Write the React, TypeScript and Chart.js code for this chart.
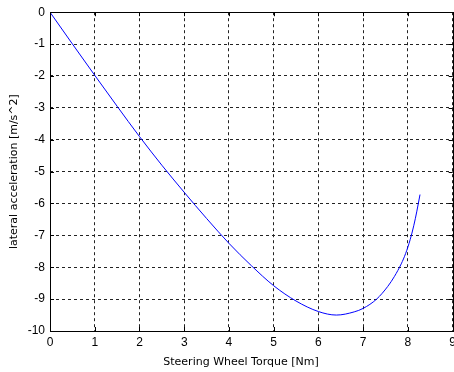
import React, { useEffect, useRef } from "react";
import { Chart, registerables } from "chart.js";

Chart.register(...registerables);

const torque = [0, 0.5, 1, 1.5, 2, 2.5, 3, 3.5, 4, 4.5, 5, 5.5, 6, 6.4, 6.8, 7, 7.3, 7.55, 7.7, 7.85, 7.95, 8.05, 8.13, 8.2, 8.27];
const latAcc = [0, -0.995, -1.98, -2.95, -3.9, -4.8, -5.65, -6.47, -7.25, -7.95, -8.58, -9.06, -9.39, -9.5, -9.4, -9.29, -9.0, -8.6, -8.285, -7.895, -7.565, -7.135, -6.7, -6.24, -5.72];
const xTicks = [0, 1, 2, 3, 4, 5, 6, 7, 8, 9];
const yTicks = [0, -1, -2, -3, -4, -5, -6, -7, -8, -9, -10];
const xTitle = "Steering Wheel Torque [Nm]";
const yTitle = "lateral acceleration [m/s^2]";

const boxPlugin = {
  id: "box",
  afterDraw(chart: any) {
    const { ctx, chartArea } = chart;
    const { left, right, top, bottom } = chartArea;
    ctx.save();
    ctx.strokeStyle = "#000";
    ctx.lineWidth = 1;
    ctx.setLineDash([]);
    ctx.strokeRect(Math.round(left) + 0.5, Math.round(top) + 0.5, Math.round(right - left), Math.round(bottom - top));
    const xs = chart.scales.x;
    const ys = chart.scales.y;
    ctx.beginPath();
    xTicks.forEach((v) => {
      const px = Math.round(xs.getPixelForValue(v)) + 0.5;
      ctx.moveTo(px, bottom);
      ctx.lineTo(px, bottom - 4);
      ctx.moveTo(px, top);
      ctx.lineTo(px, top + 4);
    });
    yTicks.forEach((v) => {
      const py = Math.round(ys.getPixelForValue(v)) + 0.5;
      ctx.moveTo(left, py);
      ctx.lineTo(left + 4, py);
      ctx.moveTo(right, py);
      ctx.lineTo(right - 4, py);
    });
    ctx.stroke();
    ctx.fillStyle = "#000";
    ctx.font = "11px 'DejaVu Sans'";
    ctx.textAlign = "center";
    ctx.textBaseline = "middle";
    ctx.fillText(xTitle, 241, 362);
    ctx.restore();
  },
};

export default function App() {
  const ref = useRef<HTMLCanvasElement>(null);
  useEffect(() => {
    const chart = new Chart(ref.current as HTMLCanvasElement, {
      type: "line",
      data: {
        datasets: [
          {
            data: torque.map((x, i) => ({ x, y: latAcc[i] })),
            borderColor: "#0000ff",
            borderWidth: 1,
            pointRadius: 0,
            cubicInterpolationMode: "monotone",
            fill: false,
          },
        ],
      },
      options: {
        animation: false,
        responsive: false,
        maintainAspectRatio: false,
        layout: { padding: { top: 11, right: 5, left: 0, bottom: 0 } },
        plugins: { legend: { display: false }, tooltip: { enabled: false } },
        scales: {
          x: {
            type: "linear",
            min: 0,
            max: 9,
            afterFit: (s: any) => { s.height = 41; },
            afterBuildTicks: (s: any) => { s.ticks = xTicks.map((v) => ({ value: v })); },
            grid: { color: "#222", drawTicks: false, lineWidth: 1 },
            border: { display: false, dash: [3, 3] },
            ticks: { color: "#000", padding: 4, font: { family: "Liberation Sans", size: 12 }, maxRotation: 0 },
          },
          y: {
            type: "linear",
            min: -10,
            max: 0,
            afterFit: (s: any) => { s.width = 50; },
            afterBuildTicks: (s: any) => { s.ticks = yTicks.map((v) => ({ value: v })); },
            grid: { color: "#222", drawTicks: false, lineWidth: 1 },
            border: { display: false, dash: [3, 3] },
            ticks: { color: "#000", padding: 5, font: { family: "Liberation Sans", size: 12 } },
            title: { display: true, text: yTitle, color: "#000", padding: { top: 8, bottom: 0 }, font: { family: "DejaVu Sans", size: 11 } },
          },
        },
      },
      plugins: [boxPlugin],
    } as any);
    return () => chart.destroy();
  }, []);
  return (
    <div style={{ position: "fixed", left: 0, top: 0, width: 460, height: 372, background: "#fff" }}>
      <canvas ref={ref} width={460} height={372} style={{ width: 460, height: 372 }} />
    </div>
  );
}
